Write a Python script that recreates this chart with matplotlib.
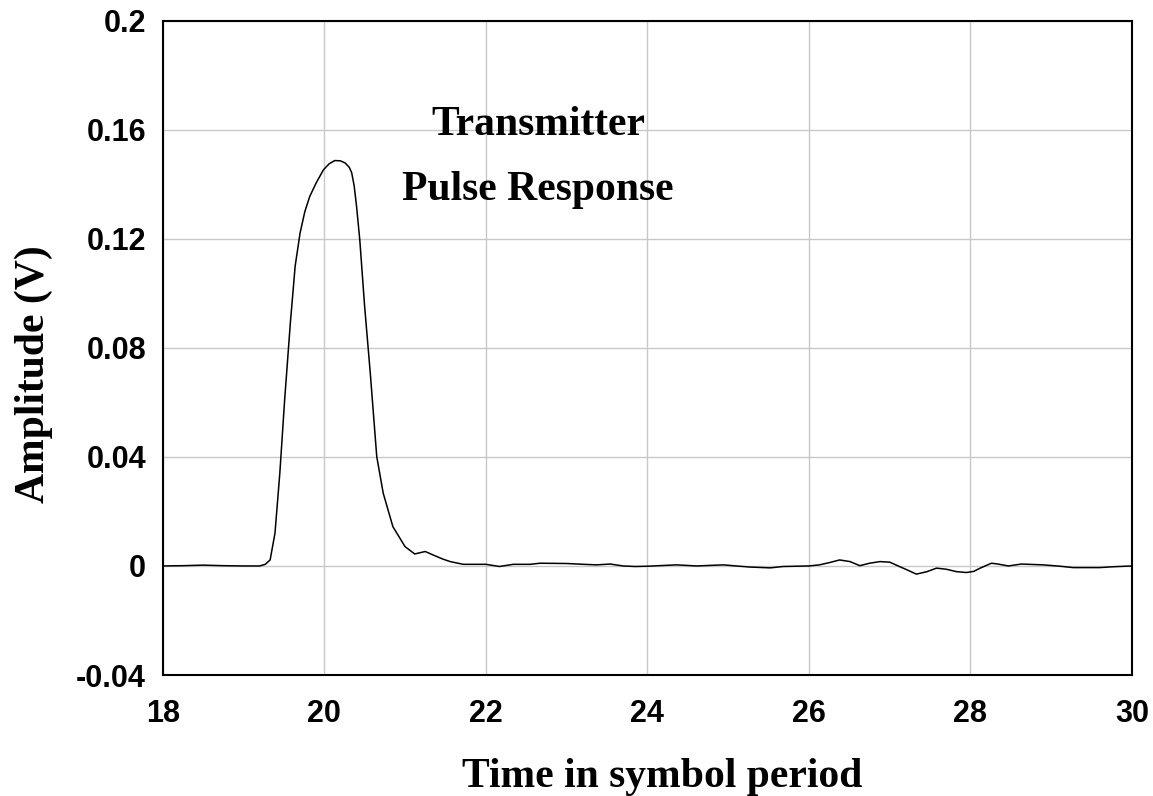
import matplotlib
matplotlib.use('Agg')
import matplotlib.pyplot as plt
import numpy as np

# Pulse response (time in symbol periods, amplitude in V)
time_sym = [18.0, 18.25, 18.5, 18.75, 19.0, 19.2, 19.27, 19.33, 19.39, 19.45,
            19.51, 19.58, 19.64, 19.70, 19.76, 19.82, 19.90, 19.99, 20.06, 20.13,
            20.20, 20.26, 20.31, 20.34, 20.37, 20.40, 20.44, 20.50, 20.57, 20.65,
            20.73, 20.85, 21.00, 21.12, 21.25, 21.35, 21.47, 21.56, 21.72, 22.00,
            22.17, 22.34, 22.55, 22.67, 23.00, 23.21, 23.37, 23.54, 23.70, 23.85,
            24.00, 24.36, 24.61, 24.94, 25.10, 25.27, 25.52, 25.68, 26.00, 26.13,
            26.25, 26.38, 26.51, 26.63, 26.75, 26.88, 27.00, 27.12, 27.22, 27.33,
            27.46, 27.58, 27.70, 27.83, 27.95, 28.04, 28.12, 28.26, 28.34, 28.47,
            28.63, 28.90, 29.11, 29.27, 29.60, 29.76, 30.00]
amplitude = [0.0, 0.0001, 0.0003, 0.0001, 0.0, 0.0, 0.0006, 0.0022, 0.012, 0.034,
             0.061, 0.089, 0.110, 0.122, 0.130, 0.1355, 0.1405, 0.1453, 0.1475, 0.1487,
             0.1486, 0.1478, 0.1462, 0.1442, 0.1395, 0.1319, 0.1196, 0.0952, 0.0707, 0.0401,
             0.0267, 0.0144, 0.0071, 0.0044, 0.0053, 0.0040, 0.0025, 0.0016, 0.0006, 0.0006,
             -0.0002, 0.0006, 0.0006, 0.0010, 0.0009, 0.0006, 0.0004, 0.0007, 0.0, -0.0002,
             -0.0001, 0.0004, 0.0, 0.0004, 0.0, -0.0004, -0.0007, -0.0002, 0.0, 0.0004,
             0.0012, 0.0022, 0.0016, 0.0001, 0.0010, 0.0016, 0.0014, -0.0002, -0.0015, -0.0030,
             -0.0021, -0.0008, -0.0012, -0.0021, -0.0024, -0.0020, -0.0008, 0.0010, 0.0007, 0.0,
             0.0007, 0.0004, -0.0001, -0.0006, -0.0006, -0.0003, 0.0]

x_ticks = [18, 20, 22, 24, 26, 28, 30]
y_ticks = [-0.04, 0, 0.04, 0.08, 0.12, 0.16, 0.2]
y_tick_labels = ['-0.04', '0', '0.04', '0.08', '0.12', '0.16', '0.2']

serif = ['Liberation Serif', 'DejaVu Serif']
sans = ['Liberation Sans', 'DejaVu Sans']

fig = plt.figure(figsize=(11.53, 7.96), dpi=100)
ax = fig.add_axes([0.1411, 0.152, 0.8407, 0.822])

ax.plot(time_sym, amplitude, color='black', linewidth=1.1)

ax.set_xlim(18, 30)
ax.set_ylim(-0.04, 0.2)
ax.set_xticks(x_ticks)
ax.set_yticks(y_ticks)
ax.set_yticklabels(y_tick_labels)
ax.grid(True, color='#c8c8c8', linewidth=1.0)
ax.set_axisbelow(True)
ax.tick_params(length=0)
ax.tick_params(axis='x', pad=17)
ax.tick_params(axis='y', pad=12)
for lbl in ax.get_xticklabels() + ax.get_yticklabels():
    lbl.set_fontfamily(sans)
    lbl.set_fontweight('bold')
    lbl.set_fontsize(22)
for sp in ax.spines.values():
    sp.set_linewidth(1.5)
    sp.set_color('black')

# axis titles placed in figure pixels measured on the reference
fig.text(662 / 1153, 1 - 787 / 796, 'Time in symbol period', family=serif, fontweight='bold',
         fontsize=30, ha='center', va='baseline')
fig.text(34 / 1153, 1 - 374 / 796, 'Amplitude (V)', family=serif, fontweight='bold',
         fontsize=30, ha='center', va='center', rotation=90)

ax.text(22.65, 0.1582, 'Transmitter', family=serif, fontweight='bold', fontsize=30,
        ha='center', va='baseline')
ax.text(22.65, 0.1343, 'Pulse Response', family=serif, fontweight='bold', fontsize=30,
        ha='center', va='baseline')

plt.savefig('out.png', dpi=100)
plt.close()
